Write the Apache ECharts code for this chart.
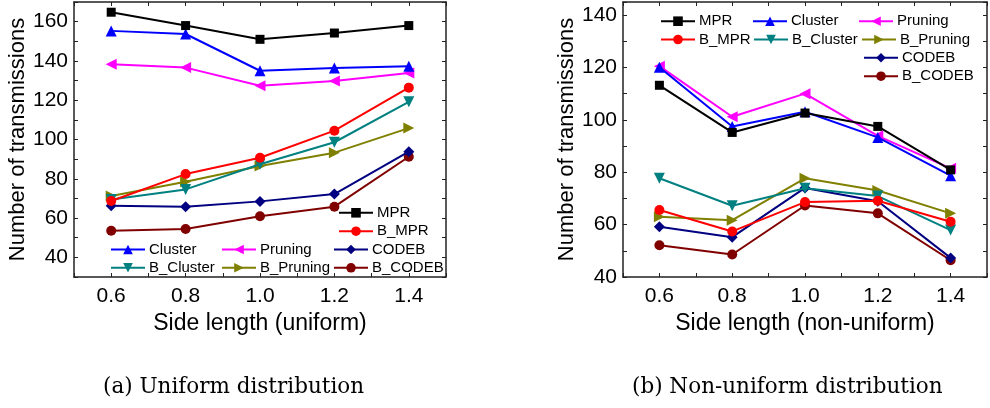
<!DOCTYPE html>
<html>
<head>
<meta charset="utf-8">
<script src="https://cdn.jsdelivr.net/npm/echarts@6/dist/echarts.min.js"></script>
<style>
html,body{margin:0;padding:0;background:#fff;}
#chart{width:990px;height:408px;}
</style>
</head>
<body>
<div id="chart"></div>
<script>
// ---- data ----
const sideLengths = [0.6, 0.8, 1.0, 1.2, 1.4];
const seriesNames = ['MPR', 'Cluster', 'Pruning', 'B_MPR', 'B_Cluster', 'B_Pruning', 'CODEB', 'B_CODEB'];

const uniformMPR       = [164.8, 158.0, 151.0, 154.2, 158.0];
const uniformCluster   = [155.3, 153.7, 135.0, 136.4, 137.3];
const uniformPruning   = [138.3, 136.6, 127.4, 129.8, 133.9];
const uniformB_MPR     = [68.7, 82.4, 90.7, 104.5, 126.4];
const uniformB_Cluster = [69.5, 74.6, 87.4, 98.6, 119.2];
const uniformB_Pruning = [71.2, 78.5, 86.5, 93.3, 105.8];
const uniformCODEB     = [66.3, 65.8, 68.5, 72.2, 93.8];
const uniformB_CODEB   = [53.5, 54.4, 60.9, 65.8, 91.2];

const nonUniformMPR       = [113.2, 95.2, 102.6, 97.5, 80.9];
const nonUniformCluster   = [120.1, 97.5, 103.1, 93.3, 78.7];
const nonUniformPruning   = [120.5, 101.2, 110.0, 93.9, 81.5];
const nonUniformB_MPR     = [65.6, 57.4, 68.6, 69.1, 61.1];
const nonUniformB_Cluster = [77.7, 67.2, 73.9, 70.9, 57.9];
const nonUniformB_Pruning = [63.0, 61.7, 77.7, 73.0, 64.3];
const nonUniformCODEB     = [59.2, 55.2, 74.0, 68.9, 47.3];
const nonUniformB_CODEB   = [52.1, 48.6, 67.3, 64.3, 46.4];

const uniformData = [uniformMPR, uniformCluster, uniformPruning, uniformB_MPR, uniformB_Cluster, uniformB_Pruning, uniformCODEB, uniformB_CODEB];
const nonUniformData = [nonUniformMPR, nonUniformCluster, nonUniformPruning, nonUniformB_MPR, nonUniformB_Cluster, nonUniformB_Pruning, nonUniformCODEB, nonUniformB_CODEB];

const leftYTicks = [40, 60, 80, 100, 120, 140, 160];
const rightYTicks = [40, 60, 80, 100, 120, 140];
const xTickLabels = ['0.6', '0.8', '1.0', '1.2', '1.4'];

// ---- styles ----
const styles = {
  'MPR':       {color: '#000000', symbol: 'rect', size: 9, rotate: 0},
  'Cluster':   {color: '#0000ff', symbol: 'triangle', size: 11, rotate: 0},
  'Pruning':   {color: '#ff00ff', symbol: 'triangle', size: 11, rotate: 90},
  'B_MPR':     {color: '#ff0000', symbol: 'circle', size: 10, rotate: 0},
  'B_Cluster': {color: '#008080', symbol: 'triangle', size: 11, rotate: 180},
  'B_Pruning': {color: '#808000', symbol: 'triangle', size: 11, rotate: -90},
  'CODEB':     {color: '#000080', symbol: 'diamond', size: 11, rotate: 0},
  'B_CODEB':   {color: '#800000', symbol: 'circle', size: 10, rotate: 0}
};

const FONT = 'Liberation Sans';
const axisLineStyle = {color: '#222', width: 1.5};

function xLabelFmt(v) {
  const k = Math.round(v * 10);
  if (k % 2 !== 0) return '';
  const s = (k / 10).toFixed(1);
  return xTickLabels.indexOf(s) >= 0 ? s : '';
}
function yFmt(list) {
  return function (v) { return list.indexOf(Math.round(v)) >= 0 && Math.abs(v - Math.round(v)) < 1e-6 ? String(Math.round(v)) : ''; };
}

function bottomX(gridIndex, name, nameGap) {
  return {
    type: 'value', gridIndex: gridIndex, position: 'bottom',
    min: 0.5, max: 1.5, interval: 0.1,
    name: name, nameLocation: 'middle', nameGap: nameGap,
    nameTextStyle: {fontFamily: FONT, fontSize: 23, color: '#000'},
    axisLine: {show: true, onZero: false, lineStyle: axisLineStyle},
    axisTick: {show: true, inside: true, length: 4, lineStyle: {color: '#222', width: 1}},
    axisLabel: {show: true, formatter: xLabelFmt, fontFamily: FONT, fontSize: 21, color: '#000', margin: 9, showMinLabel: true, showMaxLabel: true},
    splitLine: {show: false}
  };
}
function topX(gridIndex) {
  return {
    type: 'value', gridIndex: gridIndex, position: 'top',
    min: 0.5, max: 1.5, interval: 0.1,
    axisLine: {show: true, onZero: false, lineStyle: axisLineStyle},
    axisTick: {show: true, inside: true, length: 4, lineStyle: {color: '#222', width: 1}},
    axisLabel: {show: false},
    splitLine: {show: false}
  };
}
function leftY(gridIndex, min, max, ticks, nameGap) {
  return {
    type: 'value', gridIndex: gridIndex, position: 'left',
    min: min, max: max, interval: 10,
    name: 'Number of transmissions', nameLocation: 'middle', nameGap: nameGap,
    nameTextStyle: {fontFamily: FONT, fontSize: 22, color: '#000'},
    axisLine: {show: true, onZero: false, lineStyle: axisLineStyle},
    axisTick: {show: true, inside: true, length: 4, lineStyle: {color: '#222', width: 1}},
    axisLabel: {show: true, formatter: yFmt(ticks), fontFamily: FONT, fontSize: 21, color: '#000', margin: 6},
    splitLine: {show: false}
  };
}
function rightY(gridIndex, min, max) {
  return {
    type: 'value', gridIndex: gridIndex, position: 'right',
    min: min, max: max, interval: 10,
    axisLine: {show: true, onZero: false, lineStyle: axisLineStyle},
    axisTick: {show: true, inside: true, length: 4, lineStyle: {color: '#222', width: 1}},
    axisLabel: {show: false},
    splitLine: {show: false}
  };
}

const series = [];
function addSeries(dataSets, axisIndex) {
  seriesNames.forEach(function (name, i) {
    const st = styles[name];
    series.push({
      name: name, type: 'line',
      xAxisIndex: axisIndex, yAxisIndex: axisIndex,
      data: sideLengths.map(function (x, j) { return [x, dataSets[i][j]]; }),
      symbol: st.symbol, symbolSize: st.size, symbolRotate: st.rotate,
      showAllSymbol: true,
      lineStyle: {color: st.color, width: 2},
      itemStyle: {color: st.color, borderWidth: 0},
      emphasis: {disabled: true},
      animation: false,
      z: 10 - i
    });
  });
}
addSeries(uniformData, 0);
addSeries(nonUniformData, 2);

// legend placements (left of icon, vertical centre of row)
const legendLayout = [
  ['MPR', 338, 213.3], ['B_MPR', 338, 231.7],
  ['Cluster', 110, 250], ['Pruning', 221, 250], ['CODEB', 333, 250],
  ['B_Cluster', 110, 268.3], ['B_Pruning', 221, 268.3], ['B_CODEB', 333, 268.3],
  ['MPR', 660, 21.7], ['Cluster', 752, 21.7], ['Pruning', 858, 21.7],
  ['B_MPR', 660, 40], ['B_Cluster', 753, 40], ['B_Pruning', 861, 40],
  ['CODEB', 863, 58.3], ['B_CODEB', 863, 76.7]
];
const legends = legendLayout.map(function (l) {
  return {
    data: [l[0]], left: l[1], top: l[2] - 8, padding: 0,
    itemWidth: 34, itemHeight: 12, itemGap: 0,
    selectedMode: false,
    textStyle: {fontFamily: FONT, fontSize: 15, color: '#000', padding: [0, 0, 0, -1]}
  };
});

const option = {
  backgroundColor: '#fff',
  animation: false,
  grid: [
    {left: 74, right: 544, top: 2, bottom: 131, containLabel: false},
    {left: 623, right: -6, top: 2, bottom: 131, containLabel: false}
  ],
  xAxis: [bottomX(0, 'Side length (uniform)', 33), topX(0), bottomX(1, 'Side length (non-uniform)', 33), topX(1)],
  yAxis: [leftY(0, 30, 170, leftYTicks, 45), rightY(0, 30, 170), leftY(1, 40, 145, rightYTicks, 45), rightY(1, 40, 145)],
  legend: legends,
  series: series,
  graphic: [
    {type: 'text', left: 103, top: 376, style: {text: '(a) Uniform distribution', fontFamily: 'DejaVu Serif', fontSize: 21.5, fill: '#000'}},
    {type: 'text', left: 632, top: 376, style: {text: '(b) Non-uniform distribution', fontFamily: 'DejaVu Serif', fontSize: 21.5, fill: '#000'}}
  ]
};

const chart = echarts.init(document.getElementById('chart'), null, {renderer: 'canvas'});
chart.setOption(option);
</script>
</body>
</html>
